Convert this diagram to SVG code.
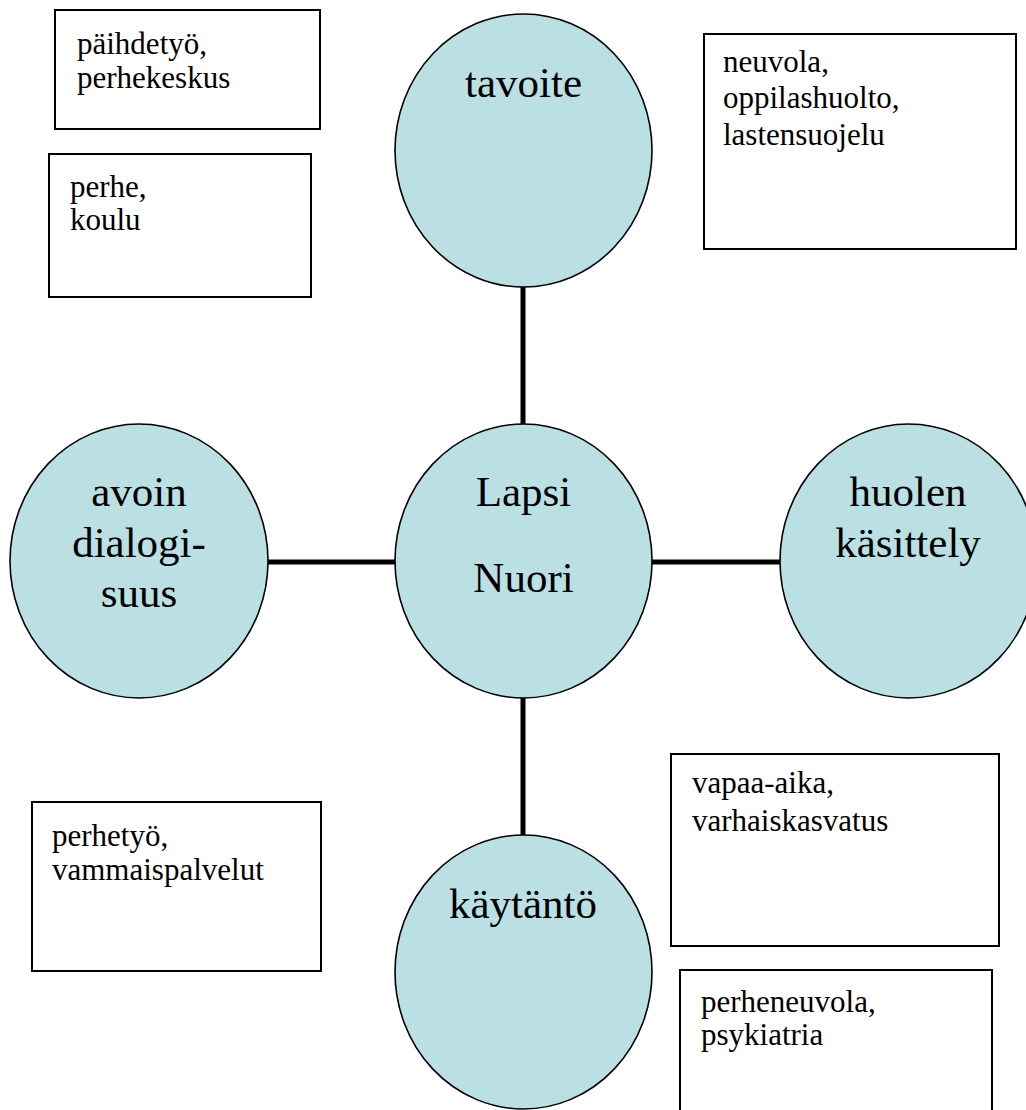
<svg xmlns="http://www.w3.org/2000/svg" width="1026" height="1110" viewBox="0 0 1026 1110">
<style>
.bg{fill:#ffffff}
.circ{fill:#BAE0E3;stroke:#000;stroke-width:1.6}
.box{fill:#fff;stroke:#000;stroke-width:2}
.conn{stroke:#000;stroke-width:5;fill:none}
.big{font-family:"Liberation Serif","Times New Roman",serif;font-size:43px;fill:#000;text-anchor:middle}
.small{font-family:"Liberation Serif","Times New Roman",serif;font-size:31px;fill:#000}
</style>
<rect class="bg" x="0" y="0" width="1026" height="1110"/>
<g id="connectors">
<line class="conn" x1="523" y1="287" x2="523" y2="424"/>
<line class="conn" x1="523" y1="698" x2="523" y2="835"/>
<line class="conn" x1="268" y1="562" x2="395" y2="562"/>
<line class="conn" x1="652" y1="562" x2="780" y2="562"/>
</g>
<g id="node-paihdetyo">
<rect class="box" x="55" y="10" width="265" height="119"/>
<text class="small" x="77" y="54">päihdetyö,</text>
<text class="small" x="77" y="88">perhekeskus</text>
</g>
<g id="node-perhe">
<rect class="box" x="49" y="154" width="262" height="143"/>
<text class="small" x="70" y="197">perhe,</text>
<text class="small" x="70" y="230">koulu</text>
</g>
<g id="node-neuvola">
<rect class="box" x="704" y="34" width="312" height="215"/>
<text class="small" x="723" y="72">neuvola,</text>
<text class="small" x="723" y="108">oppilashuolto,</text>
<text class="small" x="723" y="145">lastensuojelu</text>
</g>
<g id="node-tavoite">
<ellipse class="circ" cx="523.5" cy="150.5" rx="128.5" ry="136.5"/>
<text class="big" x="523.5" y="97">tavoite</text>
</g>
<g id="node-avoin">
<ellipse class="circ" cx="139" cy="561" rx="129" ry="137"/>
<text class="big" x="139" y="506">avoin</text>
<text class="big" x="139" y="557">dialogi-</text>
<text class="big" x="139" y="607">suus</text>
</g>
<g id="node-lapsi">
<ellipse class="circ" cx="523.5" cy="561" rx="128.5" ry="137"/>
<text class="big" x="523.5" y="506">Lapsi</text>
<text class="big" x="523.5" y="592">Nuori</text>
</g>
<g id="node-huolen">
<ellipse class="circ" cx="908.5" cy="561" rx="128.5" ry="137"/>
<text class="big" x="908" y="506">huolen</text>
<text class="big" x="908" y="557">käsittely</text>
</g>
<g id="node-kaytanto">
<ellipse class="circ" cx="523.5" cy="972" rx="128.5" ry="137"/>
<text class="big" x="523" y="918">käytäntö</text>
</g>
<g id="node-perhetyo">
<rect class="box" x="32" y="802" width="289" height="169"/>
<text class="small" x="52" y="846">perhetyö,</text>
<text class="small" x="52" y="880">vammaispalvelut</text>
</g>
<g id="node-vapaa">
<rect class="box" x="671" y="754" width="328" height="192"/>
<text class="small" x="692" y="793">vapaa-aika,</text>
<text class="small" x="692" y="831">varhaiskasvatus</text>
</g>
<g id="node-perheneuvola">
<rect class="box" x="680" y="970" width="312" height="150"/>
<text class="small" x="701" y="1012">perheneuvola,</text>
<text class="small" x="701" y="1045">psykiatria</text>
</g>
</svg>
